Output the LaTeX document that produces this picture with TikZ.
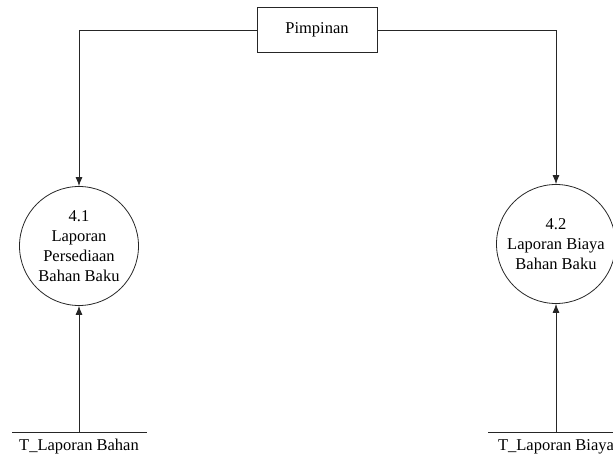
\documentclass[tikz,border=0pt]{standalone}
\usepackage{fontspec}
\setmainfont{Liberation Serif}
\usetikzlibrary{arrows.meta,positioning}

\tikzset{
	entitas/.style={draw, minimum width=120pt, minimum height=45pt, inner sep=0pt},
	proses/.style={draw, circle, minimum size=119pt, inner sep=0pt, align=center},
	alir/.style={-{Latex[length=9pt,width=7pt]}},
}

\begin{document}
\begin{tikzpicture}[x=1pt, y=-1pt, line width=0.8pt, draw=black!85,
		font=\fontsize{16.5}{20}\selectfont]
		\useasboundingbox (0,0) rectangle (613,468);
		\node[entitas] (pimpinan) at (317,30) {Pimpinan};
		\node[proses] (p41) at (79,246) {4.1\\Laporan\\Persediaan\\Bahan Baku};
		\node[proses] (p42) at (556,244) {4.2\\Laporan Biaya\\Bahan Baku};
		% data store
		\coordinate (s1) at (79,432);
		\coordinate (s1a) at (12,432);
		\coordinate (s1b) at (147,432);
		\coordinate (s2) at (556,432);
		\coordinate (s2a) at (488,432);
		\coordinate (s2b) at (624,432);
		\draw (s1a) -- (s1b);
		\draw (s2a) -- (s2b);
		\node[anchor=base] (tbahan) at (79,450) {T\_Laporan Bahan};
		\node[anchor=base] (tbiaya) at (556,450) {T\_Laporan Biaya};
		% arus data
		\draw[alir] (pimpinan.west) -| (p41.north);
		\draw[alir] (pimpinan.east) -| (p42.north);
		\draw[alir] (s1) -- (p41.south);
		\draw[alir] (s2) -- (p42.south);
	\end{tikzpicture}
\end{document}
